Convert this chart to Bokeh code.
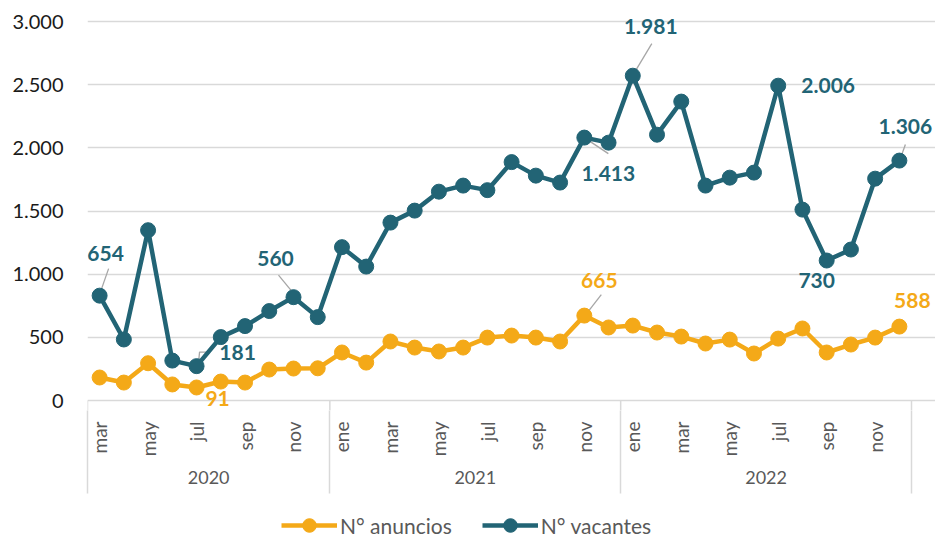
import math
from bokeh.plotting import figure
from bokeh.layouts import column
from bokeh.models import (ColumnDataSource, FixedTicker, LinearAxis, Range1d,
                          Legend, LegendItem, LabelSet)
from bokeh.core.properties import value
from bokeh.embed import file_html
from bokeh.resources import INLINE

# ---------------- data ----------------
months = ["mar", "abr", "may", "jun", "jul", "ago", "sep", "oct", "nov", "dic",
          "ene", "feb", "mar", "abr", "may", "jun", "jul", "ago", "sep", "oct", "nov", "dic",
          "ene", "feb", "mar", "abr", "may", "jun", "jul", "ago", "sep", "oct", "nov", "dic"]
years = ["2020", "2021", "2022"]
year_counts = [10, 12, 12]

vacantes = [830, 483, 1348, 316, 272, 502, 589, 708, 818, 660,
            1214, 1060, 1408, 1503, 1653, 1701, 1665, 1887, 1780, 1725, 2081, 2041,
            2571, 2104, 2366, 1701, 1764, 1804, 2492, 1511, 1108, 1195, 1756, 1899]
anuncios = [182, 142, 295, 127, 103, 150, 142, 245, 253, 255,
            380, 300, 467, 419, 388, 419, 498, 514, 498, 467, 672, 578,
            593, 538, 506, 451, 482, 372, 490, 570, 380, 443, 498, 585]

y_ticks = [0, 500, 1000, 1500, 2000, 2500, 3000]
y_tick_labels = ["0", "500", "1.000", "1.500", "2.000", "2.500", "3.000"]

series_names = ["N° anuncios", "N° vacantes"]

# data labels: (series, index, text)
label_series = ["v", "v", "v", "a", "a", "v", "v", "v", "v", "v", "a"]
label_index = [0, 8, 4, 4, 20, 20, 22, 28, 30, 33, 33]
label_text = ["654", "560", "181", "91", "665", "1.413", "1.981", "2.006", "730", "1.306", "588"]

# ---------------- layout / style ----------------
TEAL = "#226475"
ORANGE = "#F4A918"
GRID = "#D9D9D9"
TXT = "#595959"
FONT = "Lato"

W, H_MAIN, H_LEG = 935, 500, 39
PLOT_L, PLOT_R, PLOT_T, PLOT_B = 87, 911, 21, 400   # category area / 3000-line / 0-line
FRAME_T, FRAME_B = 8, 410                             # frame a bit larger than the plot area
SEP_BOTTOM = 493                                      # where the year separators end
MONTH_TOP = 413                                       # top of the month labels

n = len(months)
x = list(range(n))
x_start, x_last = -0.5, n - 0.5
px_x = (PLOT_R - PLOT_L) / (x_last - x_start)
x_end = x_last + (W - PLOT_R) / px_x
y_max = y_ticks[-1]
px_y = (PLOT_B - PLOT_T) / y_max
y_end = y_max + (PLOT_T - FRAME_T) / px_y
y_start = -(FRAME_B - PLOT_B) / px_y

# label offsets in screen px (dx right, dy down) relative to the point
label_dx = [6, -18, 41, 21, 15, 24, 18, 50, -10, 6, 13]
label_dy = [-42, -39, -14, 11, -35, 36, -49, 0, 20, -34, -26]
# leader lines (px offsets relative to point), keyed by label position in list
leaders = {
    0: [(2, -7), (9, -27)],
    1: [(-1, -5), (-15, -22)],
    2: [(2, -4), (3, -14), (13, -14)],
    4: [(3, -3), (17, -21)],
    5: [(3, 2), (24, 16)],
    6: [(1, -2), (19, -32)],
    9: [(1, -2), (6, -16)],
}

p = figure(width=W, height=H_MAIN, output_backend="svg", toolbar_location=None,
           x_range=Range1d(x_start, x_end), y_range=Range1d(y_start, y_end),
           x_axis_location=None, min_border_left=PLOT_L, min_border_right=0,
           min_border_top=FRAME_T, min_border_bottom=H_MAIN - FRAME_B)
p.outline_line_color = None
p.background_fill_color = "white"
p.border_fill_color = "white"
for g in p.grid:
    if g.dimension == 0:
        g.visible = False

# y axis
p.yaxis.ticker = FixedTicker(ticks=y_ticks)
p.yaxis.major_label_overrides = dict(zip(y_ticks, y_tick_labels))
p.yaxis.axis_line_color = None
p.yaxis.major_tick_line_color = None
p.yaxis.minor_tick_line_color = None
p.yaxis.major_tick_out = 0
p.yaxis.major_label_standoff = 24
p.yaxis.major_label_text_font = FONT
p.yaxis.major_label_text_font_size = "20px"
p.yaxis.major_label_text_color = "#1A1A1A"
for g in p.grid:
    if g.dimension == 1:
        g.ticker = FixedTicker(ticks=y_ticks)
        g.grid_line_color = GRID
        g.grid_line_width = 1.5
        g.bounds = (x_start, x_last)

# year boundaries
bounds = [x_start]
acc = x_start
for c in year_counts:
    acc += c
    bounds.append(acc)

# separators between the 0-line and the frame bottom
p.segment(x0=bounds, y0=[0] * len(bounds), x1=bounds, y1=[y_start] * len(bounds),
          line_color=GRID, line_width=1.5)

# month axis, with long boundary ticks as year separators
sep_len = SEP_BOTTOM - FRAME_B
month_ticks = [i for i in x if i % 2 == 0]
ax1 = LinearAxis(ticker=FixedTicker(ticks=month_ticks, minor_ticks=bounds),
                 major_label_overrides={i: months[i] for i in month_ticks})
ax1.major_label_orientation = math.pi / 2
ax1.major_tick_line_color = None
ax1.major_tick_out = 0
ax1.major_tick_in = 0
ax1.minor_tick_out = sep_len
ax1.minor_tick_in = 0
ax1.minor_tick_line_color = GRID
ax1.minor_tick_line_width = 1.5
ax1.axis_line_color = None
ax1.major_label_standoff = (MONTH_TOP - FRAME_B) + 8 - sep_len
ax1.major_label_text_font = FONT
ax1.major_label_text_font_size = "19px"
ax1.major_label_text_color = TXT
p.add_layout(ax1, "below")

# year axis
centers = [(bounds[i] + bounds[i + 1]) / 2 for i in range(len(years))]
ax2 = LinearAxis(ticker=FixedTicker(ticks=centers),
                 major_label_overrides={c: y for c, y in zip(centers, years)})
ax2.axis_line_color = None
ax2.major_tick_line_color = None
ax2.minor_tick_line_color = None
ax2.major_tick_out = 0
ax2.major_tick_in = 0
ax2.minor_tick_out = 0
ax2.minor_tick_in = 0
ax2.major_label_standoff = 11
ax2.major_label_orientation = "horizontal"
ax2.major_label_text_font = FONT
ax2.major_label_text_font_size = "18px"
ax2.major_label_text_color = TXT
p.add_layout(ax2, "below")

series = {"v": vacantes, "a": anuncios}

# leader lines
lx, ly = [], []
for k, pts in leaders.items():
    s = series[label_series[k]]
    i = label_index[k]
    lx.append([i + dx / px_x for dx, dy in pts])
    ly.append([s[i] - dy / px_y for dx, dy in pts])
p.multi_line(lx, ly, line_color="#A6A6A6", line_width=1.3)

src = ColumnDataSource(dict(x=x, v=vacantes, a=anuncios))
p.line("x", "a", source=src, line_color=ORANGE, line_width=4.5)
p.scatter("x", "a", source=src, size=15, fill_color=ORANGE, line_color=ORANGE)
p.line("x", "v", source=src, line_color=TEAL, line_width=4.5)
p.scatter("x", "v", source=src, size=15, fill_color=TEAL, line_color=TEAL)

# data labels
lab = dict(x=[], y=[], t=[], xo=[], yo=[], c=[])
for k in range(len(label_text)):
    s = series[label_series[k]]
    i = label_index[k]
    lab["x"].append(i)
    lab["y"].append(s[i])
    lab["t"].append(label_text[k])
    lab["xo"].append(label_dx[k])
    lab["yo"].append(-label_dy[k])
    lab["c"].append(TEAL if label_series[k] == "v" else ORANGE)
labels = LabelSet(x="x", y="y", text="t", x_offset="xo", y_offset="yo",
                  text_color="c", source=ColumnDataSource(lab),
                  text_font=value(FONT), text_font_size=value("21px"),
                  text_font_style=value("bold"),
                  text_align="center", text_baseline="middle")
p.add_layout(labels)

# ---------------- legend strip ----------------
q = figure(width=W, height=H_LEG, output_backend="svg", toolbar_location=None,
           x_range=Range1d(0, 1), y_range=Range1d(0, 1),
           x_axis_location=None, y_axis_location=None,
           min_border_left=0, min_border_right=0, min_border_top=0, min_border_bottom=0)
q.outline_line_color = None
q.grid.visible = False
q.background_fill_color = "white"
q.border_fill_color = "white"
items = []
for name, col, key in zip(series_names, [ORANGE, TEAL], ["a", "v"]):
    # same data, but outside this strip's ranges: only the legend swatch shows
    r1 = q.line("x", key, source=src, line_color=col, line_width=4.5)
    r2 = q.scatter("x", key, source=src, size=15, fill_color=col, line_color=col)
    items.append(LegendItem(label=name, renderers=[r1, r2]))
legend = Legend(items=items, orientation="horizontal", location=(194, -3))
legend.label_text_font = FONT
legend.label_text_font_size = "21px"
legend.label_text_color = TXT
legend.glyph_width = 56
legend.glyph_height = 34
legend.spacing = 30
legend.label_standoff = 3
legend.padding = 0
legend.margin = 0
legend.border_line_color = None
legend.background_fill_alpha = 0
q.add_layout(legend, "center")

open("out.html", "w").write(file_html(column(p, q, spacing=0), INLINE))
